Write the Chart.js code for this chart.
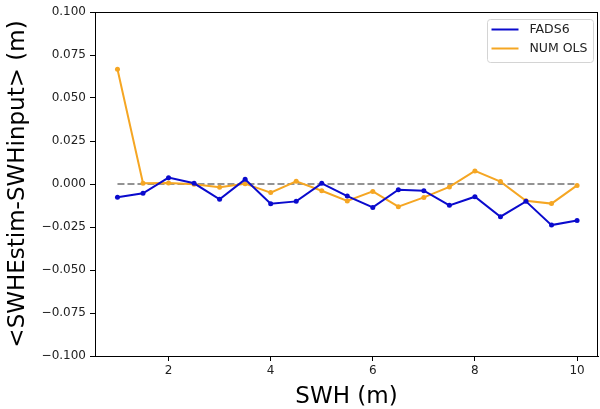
<!DOCTYPE html>
<html>
<head>
<meta charset="utf-8">
<script src="https://cdn.jsdelivr.net/npm/chart.js@4/dist/chart.umd.min.js"></script>
<style>
  body { margin: 0; background: #fff; }
  #wrap { width: 600px; height: 409px; position: relative; }
</style>
</head>
<body>
<div id="wrap"><canvas id="sesgoChart"></canvas></div>
<script>
// SWH bins and mean bias per method
const swh = [1, 1.5, 2, 2.5, 3, 3.5, 4, 4.5, 5, 5.5, 6, 6.5, 7, 7.5, 8, 8.5, 9, 9.5, 10];
const fads6 = [-0.0077, -0.0054, 0.0037, 0.0004, -0.0089, 0.0027, -0.0115, -0.0101, 0.0004, -0.0070,
               -0.0136, -0.0033, -0.0039, -0.0124, -0.0074, -0.0190, -0.0101, -0.0239, -0.0212];
const numOls = [0.0667, 0.0004, 0.0006, -0.0002, -0.0019, 0.0002, -0.0050, 0.0016, -0.0039, -0.0099,
                -0.0043, -0.0132, -0.0078, -0.0017, 0.0076, 0.0014, -0.0097, -0.0114, -0.0008];
const xTicks = [2, 4, 6, 8, 10];
const yTicks = [-0.1, -0.075, -0.05, -0.025, 0, 0.025, 0.05, 0.075, 0.1];
const zeroRef = [swh[0], swh[swh.length - 1]];

const pares = (xs, ys) => xs.map((x, i) => ({ x: x, y: ys[i] }));
const fuente = 'DejaVu Sans, sans-serif';

// marco completo del area de trazado y leyenda arriba a la derecha
const marco = {
    id: 'marco',
    afterDraw(chart) {
        const a = chart.chartArea;
        const ctx = chart.ctx;
        ctx.save();
        ctx.strokeStyle = '#000';
        ctx.lineWidth = 1;
        ctx.strokeRect(Math.round(a.left) + 0.5, Math.round(a.top) + 0.5,
                       Math.round(a.right - a.left) - 1, Math.round(a.bottom - a.top));

        const items = chart.data.datasets.slice(0, 2);
        const bx = Math.round(a.right) - 110.5, by = Math.round(a.top) + 7.5;
        ctx.fillStyle = 'rgba(255,255,255,0.85)';
        ctx.strokeStyle = '#d4d4d4';
        ctx.beginPath();
        ctx.roundRect(bx, by, 106, 43, 3);
        ctx.fill();
        ctx.stroke();

        ctx.font = '12.5px ' + fuente;
        ctx.textBaseline = 'middle';
        items.forEach((ds, i) => {
            const y = by + 10 + i * 19;
            ctx.strokeStyle = ds.borderColor;
            ctx.lineWidth = 2;
            ctx.beginPath();
            ctx.moveTo(bx + 4, y);
            ctx.lineTo(bx + 31, y);
            ctx.stroke();
            ctx.fillStyle = '#222';
            ctx.fillText(ds.label, bx + 42, y);
        });
        ctx.restore();
    }
};

new Chart(document.getElementById('sesgoChart'), {
    type: 'line',
    data: {
        datasets: [{
            label: 'FADS6',
            data: pares(swh, fads6),
            borderColor: '#0a0acd',
            backgroundColor: '#0a0acd',
            borderWidth: 2,
            pointRadius: 2.5,
            pointBorderWidth: 0,
            tension: 0
        }, {
            label: 'NUM OLS',
            data: pares(swh, numOls),
            borderColor: '#f5a623',
            backgroundColor: '#f5a623',
            borderWidth: 2,
            pointRadius: 2.5,
            pointBorderWidth: 0,
            tension: 0
        }, {
            label: 'cero',
            data: zeroRef.map(x => ({ x: x, y: 0 })),
            borderColor: '#707070',
            borderWidth: 1.5,
            borderDash: [7, 3],
            pointRadius: 0
        }]
    },
    options: {
        responsive: true,
        maintainAspectRatio: false,
        animation: false,
        layout: { autoPadding: false, padding: { top: 12, right: 2, left: 0, bottom: 0 } },
        plugins: {
            tooltip: { enabled: false },
            legend: { display: false }
        },
        scales: {
            x: {
                type: 'linear',
                min: 0.56,
                max: 10.41,
                afterBuildTicks: s => { s.ticks = xTicks.map(v => ({ value: v })); },
                afterFit: s => { s.height = 53; s.paddingLeft = 0; s.paddingRight = 0; },
                grid: { drawOnChartArea: false, drawTicks: true, tickLength: 5, color: '#000' },
                border: { color: '#000', width: 1 },
                ticks: { color: '#222', padding: 3, font: { family: fuente, size: 12 } },
                title: { display: true, text: 'SWH (m)', color: '#000', padding: { top: 2, bottom: -2 },
                         font: { family: fuente, size: 23 } }
            },
            y: {
                min: -0.1,
                max: 0.1,
                afterBuildTicks: s => { s.ticks = yTicks.map(v => ({ value: v })); },
                afterFit: s => { s.width = 95; s.paddingTop = 0; s.paddingBottom = 0; },
                grid: { drawOnChartArea: false, drawTicks: true, tickLength: 5, color: '#000' },
                border: { color: '#000', width: 1 },
                ticks: {
                    color: '#222',
                    padding: 4,
                    font: { family: fuente, size: 12 },
                    callback: v => v.toFixed(3).replace('-', '\u2212')
                },
                title: { display: true, text: '<SWHEstim-SWHinput> (m)', color: '#000',
                         padding: { top: 4, bottom: 0 }, font: { family: fuente, size: 23 } }
            }
        }
    },
    plugins: [marco]
});
</script>
</body>
</html>
